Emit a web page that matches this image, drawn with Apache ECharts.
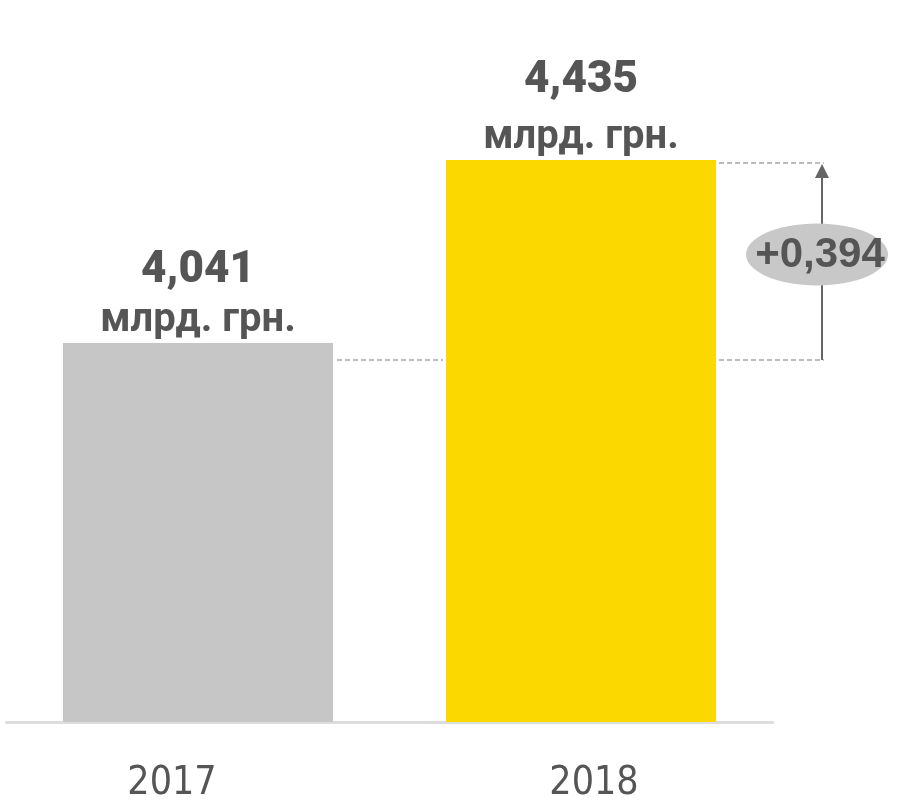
<!DOCTYPE html>
<html>
<head>
<meta charset="utf-8">
<script src="https://cdn.jsdelivr.net/npm/echarts@6/dist/echarts.min.js"></script>
<style>html,body{margin:0;padding:0;background:#fff}#c{width:897px;height:803px}</style>
</head>
<body>
<div id="c"></div>
<script>
var categories = ['2017', '2018'];
var values = [4.041, 4.435];
var valueLabels = ['4,041', '4,435'];
var unitLabel = 'млрд. грн.';
var diffLabel = '+0,394';
var barColors = ['#c6c6c6', '#fbd800'];

var chart = echarts.init(document.getElementById('c'));
var BAR_W = 270;
var topLineHeights = [60, 74];

chart.setOption({
  animation: false,
  grid: {left: 6.5, right: 124.5, top: 160, bottom: 78, containLabel: false},
  xAxis: {
    type: 'category',
    data: [
      {value: categories[0], textStyle: {padding: [0, 52, 0, 0]}},
      {value: categories[1], textStyle: {padding: [0, 0, 0, 26]}}
    ],
    axisLine: {lineStyle: {color: '#dddddd', width: 3}},
    axisTick: {show: false},
    axisLabel: {
      margin: 42,
      fontFamily: "'DejaVu Sans Condensed', 'DejaVu Sans', sans-serif",
      fontWeight: 300,
      fontSize: 39,
      color: '#555555'
    }
  },
  yAxis: {type: 'value', min: 3.225, max: 4.435, show: false, splitLine: {show: false}},
  series: [
    {
      type: 'bar',
      barWidth: BAR_W,
      data: values.map(function (v, i) {
        return {
          value: v,
          itemStyle: {color: barColors[i]},
          label: {rich: {
            a: {fontFamily: 'Roboto', fontWeight: 900, fontSize: 44, color: '#555555', lineHeight: topLineHeights[i]},
            b: {fontFamily: 'Roboto', fontWeight: 'bold', fontSize: 40, color: '#555555', lineHeight: 40}
          }}
        };
      }),
      label: {
        show: true,
        position: 'top',
        distance: 2,
        formatter: function (p) {
          return '{a|' + valueLabels[p.dataIndex] + '}\n{b|' + unitLabel + '}';
        }
      }
    },
    {
      type: 'custom',
      z: 10,
      data: [[1, values[0], values[1]]],
      renderItem: function (params, api) {
        var pLow = api.coord([0, api.value(1)]);
        var pHigh = api.coord([1, api.value(2)]);
        var half = BAR_W / 2;
        var yLow = pLow[1] + 17;
        var yHigh = pHigh[1] + 3;
        var x0r = pLow[0] + half;
        var x1l = pHigh[0] - half;
        var x1r = pHigh[0] + half;
        var ax = x1r + 106;
        var dash = {stroke: '#a8a8a8', lineWidth: 1.5, lineDash: [5, 3]};
        var cy = (yLow + yHigh) / 2 - 8;
        return {
          type: 'group',
          children: [
            {type: 'line', shape: {x1: x0r + 4, y1: yLow, x2: x1l - 3, y2: yLow}, style: dash},
            {type: 'line', shape: {x1: x1r + 3, y1: yLow, x2: ax + 2, y2: yLow}, style: dash},
            {type: 'line', shape: {x1: x1r + 3, y1: yHigh, x2: ax + 2, y2: yHigh}, style: dash},
            {type: 'line', shape: {x1: ax, y1: yLow, x2: ax, y2: yHigh + 12}, style: {stroke: '#666666', lineWidth: 2}},
            {type: 'polygon', shape: {points: [[ax - 7, yHigh + 15], [ax + 7, yHigh + 15], [ax, yHigh + 1]]}, style: {fill: '#666666'}},
            {type: 'ellipse', shape: {cx: ax - 5, cy: cy + 1, rx: 71, ry: 31}, style: {fill: '#c8c8c8'}},
            {type: 'text', style: {x: ax - 2, y: cy + 2, text: diffLabel, align: 'center', verticalAlign: 'middle',
              font: 'bold 42px "Liberation Sans", Arial, sans-serif', fill: '#555555'}}
          ]
        };
      }
    }
  ]
});
</script>
</body>
</html>
